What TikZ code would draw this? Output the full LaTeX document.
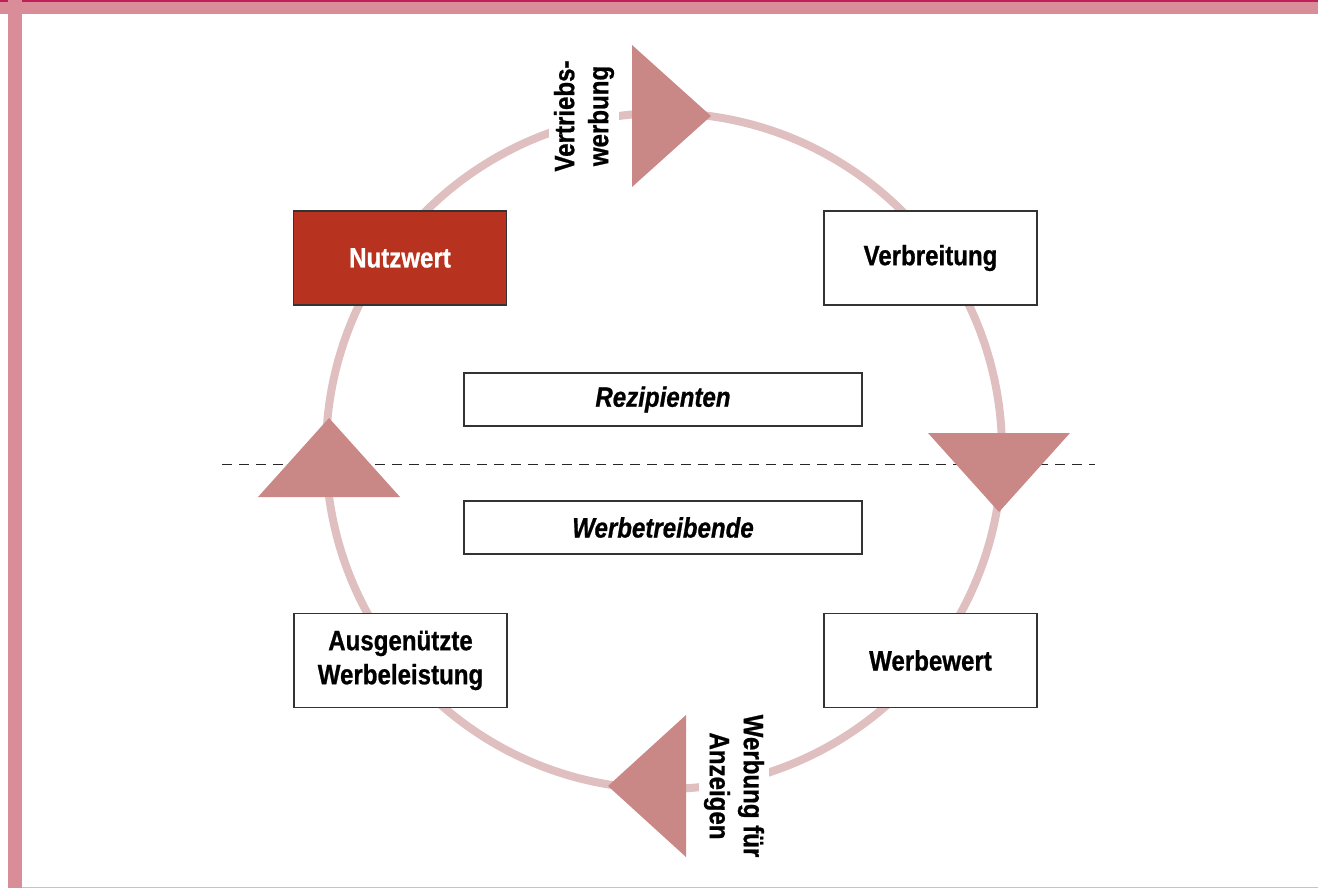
\documentclass[tikz,border=0pt]{standalone}
\usepackage{fontspec}
\setmainfont[FakeStretch=0.86,BoldFeatures={FakeBold=0.8},BoldItalicFeatures={FakeBold=0.8}]{Liberation Sans}
\definecolor{framepink}{HTML}{D98D98}
\definecolor{framelight}{HTML}{E8B4BC}
\definecolor{crimson}{HTML}{C21E5A}
\definecolor{ringc}{HTML}{DFBFBF}
\definecolor{tric}{HTML}{C98886}
\definecolor{nutzc}{HTML}{B83220}
\definecolor{boxline}{HTML}{333333}
\newcommand\lblfont{\fontsize{28}{34}\selectfont\bfseries}
\tikzset{
  ring/.style={draw=ringc, line width=8pt},
  bigbox/.style={draw=boxline, line width=1.3pt, fill=white, minimum width=213pt,
    minimum height=94pt, font=\lblfont, align=center, inner sep=0pt},
  widebox/.style={draw=boxline, line width=1.3pt, fill=white, minimum width=398pt,
    minimum height=53pt, font=\lblfont\itshape, inner sep=0pt},
  rotlbl/.style={fill=white, font=\lblfont, align=center, inner sep=5pt},
  tri/.style={fill=tric},
  divider/.style={draw=black!85, line width=1pt, dash pattern=on 10pt off 7pt}
}
\begin{document}
\begin{tikzpicture}[x=1pt,y=-1pt]
\useasboundingbox (0,0) rectangle (1318,888);
% frame
\fill[framepink] (0,0) rectangle (1318,14);
\fill[crimson] (0,0) rectangle (1318,2);
\fill[framepink] (8,0) rectangle (21.5,888);
\fill[framelight] (21.5,886.5) rectangle (1318,888);
% ring
\coordinate (c) at (664,451);
\draw[ring] (c) circle[radius=338];
% divider
\coordinate (dl) at (222,464);
\coordinate (dr) at (1095,464);
\draw[divider] (dl) -- (dr);
% boxes
\node[bigbox, fill=nutzc, text=white] (nutz) at (400,258) {Nutzwert};
\node[bigbox] (verb) at (930.5,258) {Verbreitung};
\node[bigbox] (ausg) at (400.5,660.5) {Ausgenützte\\Werbeleistung};
\node[bigbox] (werw) at (930.5,660.5) {Werbewert};
\node[widebox] (rez) at (663,399.5) {Rezipienten};
\node[widebox] (wtr) at (663,527.5) {Werbetreibende};
% triangles
\fill[tri] (632,45) -- (632,187) -- (711,116) -- cycle;
\fill[tri] (928,433) -- (1070,433) -- (999,512) -- cycle;
\fill[tri] (686,715) -- (686,857) -- (608,786) -- cycle;
\fill[tri] (258,497) -- (400,497) -- (329,418) -- cycle;
% rotated labels
\node[rotlbl, rotate=90] (vw) at (584,116) {Vertriebs-\\werbung};
\node[rotlbl, rotate=-90] (wa) at (734,786) {Werbung für\\Anzeigen};
\end{tikzpicture}
\end{document}
